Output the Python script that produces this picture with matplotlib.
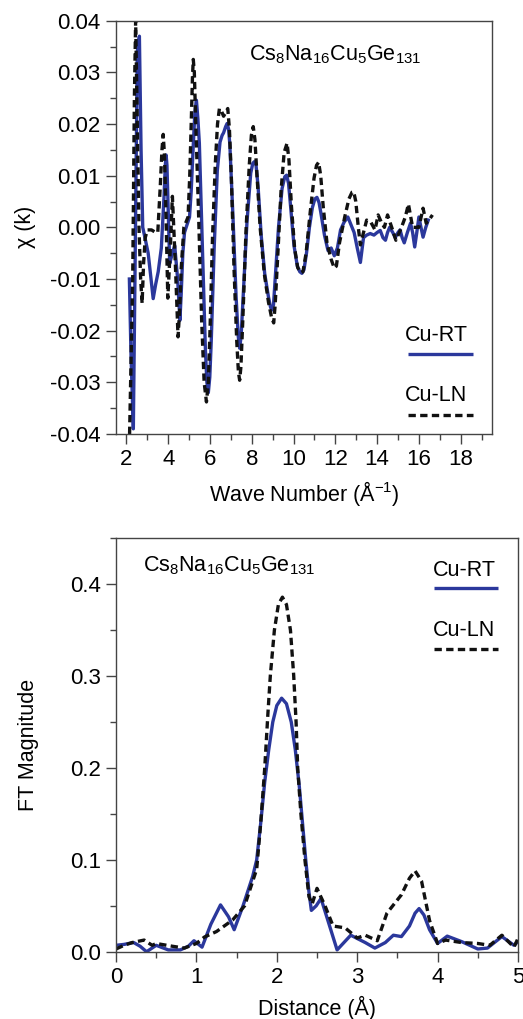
import matplotlib
matplotlib.use('Agg')
import matplotlib.pyplot as plt
from matplotlib.ticker import MultipleLocator, FormatStrFormatter

plt.rcParams['font.family'] = ['Liberation Sans', 'DejaVu Sans']
plt.rcParams['mathtext.fontset'] = 'custom'
plt.rcParams['mathtext.rm'] = 'Liberation Sans'
plt.rcParams['mathtext.it'] = 'Liberation Sans:italic'
plt.rcParams['axes.unicode_minus'] = False

'''
    chi(k) data
'''
k_rt = [2.14, 2.22, 2.33, 2.42, 2.52, 2.62, 2.70, 2.78, 2.86, 3.04, 3.15, 3.28, 3.40, 3.52,
        3.67, 3.80, 3.86, 3.90, 3.94, 3.98, 4.07, 4.20, 4.31, 4.45, 4.56, 4.62, 4.70, 4.78,
        4.90, 5.02, 5.10, 5.20, 5.28, 5.35, 5.42, 5.49, 5.635, 5.78, 5.85, 5.92, 5.99, 6.06,
        6.20, 6.35, 6.48, 6.58, 6.65, 6.75, 6.82, 6.89, 6.95, 7.10, 7.25, 7.35, 7.42, 7.49,
        7.58, 7.77, 7.95, 8.05, 8.12, 8.20, 8.30, 8.45, 8.62, 8.80, 8.90, 8.97, 9.04, 9.12,
        9.28, 9.45, 9.58, 9.67, 9.76, 9.86, 10.02, 10.18, 10.30, 10.40, 10.50, 10.62, 10.76,
        10.90, 11.02, 11.12, 11.22, 11.30, 11.48, 11.65, 11.80, 11.95, 12.10, 12.25, 12.42,
        12.60, 12.75, 12.90, 13.05, 13.20, 13.35, 13.50, 13.67, 13.85, 14.00, 14.15, 14.28,
        14.40, 14.50, 14.60, 14.75, 14.87, 15.00, 15.10, 15.20, 15.30, 15.45, 15.60, 15.70,
        15.80, 15.90, 16.00, 16.10, 16.20, 16.33, 16.45]
chi_rt = [-0.010, -0.025, -0.039, -0.005, 0.034, 0.037, 0.015, 0.000, -0.0015, -0.005, -0.009,
          -0.0138, -0.011, -0.0086, -0.004, 0.006, 0.012, 0.014, 0.012, 0.006, -0.007, -0.005,
          -0.0035, -0.010, -0.018, -0.013, -0.005, -0.001, 0.0005, 0.002, 0.007, 0.016, 0.0225,
          0.0246, 0.021, 0.0163, -0.0037, -0.0237, -0.030, -0.032, -0.029, -0.022, -0.004,
          0.011, 0.0165, 0.0178, 0.0183, 0.0195, 0.0201, 0.019, 0.016, 0.002, -0.0135, -0.021,
          -0.0234, -0.021, -0.014, 0.001, 0.0105, 0.0124, 0.0127, 0.0122, 0.008, -0.0015,
          -0.009, -0.0135, -0.0155, -0.016, -0.015, -0.010, 0.000, 0.0075, 0.0098, 0.0101,
          0.0085, 0.004, -0.0035, -0.0075, -0.0086, -0.0089, -0.0082, -0.005, 0.000, 0.0038,
          0.0055, 0.0058, 0.0048, 0.003, -0.0015, -0.0045, -0.004, -0.0055, -0.004, -0.0005,
          0.001, 0.002, 0.0005, -0.001, -0.004, -0.0068, -0.002, -0.0015, -0.0012, -0.0015,
          -0.001, -0.0006, -0.002, -0.0025, -0.001, 0.000, -0.001, -0.002, -0.001, -0.0005,
          -0.002, -0.003, -0.001, 0.0008, -0.001, -0.0038, -0.001, 0.002, 0.000, -0.0019, 0.000,
          0.0014]

k_ln = [2.15, 2.30, 2.38, 2.44, 2.52, 2.60, 2.68, 2.75, 2.82, 2.90, 3.00, 3.20, 3.40, 3.50,
        3.62, 3.70, 3.76, 3.82, 3.88, 3.98, 4.10, 4.20, 4.35, 4.47, 4.55, 4.62, 4.75, 4.95,
        5.03, 5.10, 5.16, 5.20, 5.25, 5.32, 5.45, 5.60, 5.72, 5.83, 5.92, 6.00, 6.12, 6.25,
        6.36, 6.45, 6.55, 6.65, 6.75, 6.85, 6.93, 7.02, 7.15, 7.28, 7.36, 7.42, 7.48, 7.57,
        7.72, 7.88, 7.98, 8.07, 8.15, 8.25, 8.40, 8.60, 8.80, 8.95, 9.05, 9.12, 9.25, 9.40,
        9.55, 9.69, 9.78, 9.90, 10.05, 10.20, 10.35, 10.45, 10.60, 10.80, 10.98, 11.10, 11.20,
        11.30, 11.42, 11.60, 11.80, 11.95, 12.05, 12.20, 12.45, 12.65, 12.80, 12.88, 12.98,
        13.10, 13.20, 13.35, 13.50, 13.70, 13.90, 14.05, 14.20, 14.35, 14.50, 14.70, 14.90,
        15.15, 15.35, 15.50, 15.70, 16.00, 16.20, 16.35, 16.50, 16.65]
chi_ln = [-0.040, -0.010, 0.025, 0.040, 0.020, 0.000, -0.010, -0.0147, -0.007, -0.002, -0.0005,
          -0.0005, -0.001, -0.001, 0.008, 0.015, 0.018, 0.014, 0.005, -0.0137, -0.004, 0.006,
          -0.008, -0.0212, -0.016, -0.008, 0.000, 0.002, 0.010, 0.020, 0.029, 0.0325, 0.030,
          0.020, 0.003, -0.018, -0.030, -0.0338, -0.030, -0.020, -0.002, 0.012, 0.020, 0.023,
          0.0225, 0.0215, 0.0222, 0.023, 0.019, 0.010, -0.008, -0.022, -0.028, -0.0296, -0.027,
          -0.018, -0.001, 0.012, 0.0178, 0.0195, 0.017, 0.010, 0.000, -0.009, -0.0145, -0.0175,
          -0.0185, -0.015, -0.005, 0.007, 0.0145, 0.0163, 0.013, 0.004, -0.004, -0.0078, -0.0088,
          -0.0086, -0.005, 0.003, 0.0095, 0.012, 0.0126, 0.010, 0.004, -0.003, -0.0062, -0.0079,
          -0.0075, -0.003, 0.002, 0.0055, 0.0068, 0.0069, 0.005, 0.000, -0.0034, -0.001, 0.0014,
          0.001, -0.0005, 0.0024, 0.001, 0.000, 0.0024, 0.000, -0.0025, -0.0002, 0.002, 0.0045,
          0.000, 0.000, 0.0037, 0.0008, 0.0015, 0.0024]

'''
    FT magnitude data
'''
r_rt = [0.00, 0.10, 0.22, 0.30, 0.38, 0.50, 0.65, 0.80, 0.90, 0.97, 1.07, 1.18, 1.30, 1.40,
        1.47, 1.58, 1.70, 1.75, 1.80, 1.85, 1.90, 1.95, 2.00, 2.06, 2.12, 2.18, 2.23, 2.28,
        2.32, 2.36, 2.40, 2.43, 2.49, 2.55, 2.65, 2.75, 2.92, 3.10, 3.22, 3.35, 3.45, 3.55,
        3.65, 3.72, 3.77, 3.83, 3.90, 4.00, 4.12, 4.30, 4.50, 4.62, 4.80, 4.95, 5.00]
ft_rt = [0.007, 0.008, 0.010, 0.006, 0.000, 0.007, 0.002, 0.002, 0.006, 0.012, 0.005, 0.030,
         0.051, 0.038, 0.024, 0.050, 0.082, 0.100, 0.140, 0.185, 0.220, 0.250, 0.268, 0.276,
         0.270, 0.250, 0.220, 0.180, 0.140, 0.100, 0.065, 0.045, 0.050, 0.058, 0.030, 0.002,
         0.018, 0.010, 0.004, 0.010, 0.018, 0.0165, 0.028, 0.042, 0.047, 0.040, 0.024, 0.009,
         0.017, 0.011, 0.003, 0.004, 0.0165, 0.007, 0.011]

r_ln = [0.00, 0.10, 0.20, 0.35, 0.45, 0.50, 0.70, 0.85, 1.00, 1.10, 1.25, 1.45, 1.60, 1.75,
        1.80, 1.85, 1.89, 1.92, 1.97, 2.02, 2.07, 2.12, 2.17, 2.21, 2.24, 2.26, 2.30, 2.35,
        2.40, 2.44, 2.50, 2.60, 2.70, 2.85, 3.00, 3.10, 3.25, 3.37, 3.55, 3.65, 3.72, 3.80,
        3.90, 4.00, 4.10, 4.30, 4.50, 4.65, 4.80, 4.95, 5.00]
ft_ln = [0.003, 0.007, 0.010, 0.0127, 0.007, 0.009, 0.006, 0.004, 0.009, 0.016, 0.022, 0.0345,
         0.050, 0.090, 0.140, 0.200, 0.260, 0.301, 0.350, 0.378, 0.386, 0.378, 0.350, 0.301,
         0.250, 0.200, 0.150, 0.100, 0.060, 0.052, 0.069, 0.050, 0.028, 0.026, 0.015, 0.018,
         0.012, 0.042, 0.062, 0.080, 0.088, 0.077, 0.034, 0.009, 0.0127, 0.010, 0.009, 0.007,
         0.018, 0.005, 0.0145]

blue = '#2b389c'
spine_c = '#444444'
dash = (0, (2.2, 1.3))
fs_tick = 16
fs_text = 15.5

fig = plt.figure(figsize=(5.23, 10.19), dpi=100)
ax1 = fig.add_axes([0.2218, 0.5741, 0.7189, 0.4056])
ax2 = fig.add_axes([0.2218, 0.0660, 0.7686, 0.4057])


def style_axes(ax):
    for s in ax.spines.values():
        s.set_color(spine_c)
        s.set_linewidth(1.0)
    ax.tick_params(which='both', direction='out', color=spine_c, width=1.0,
                   top=False, right=False, labelsize=fs_tick, pad=4)
    ax.tick_params(which='major', length=7)
    ax.tick_params(which='minor', length=4.5)


def legend_block(ax, tx, x0, x1, y_rt, y_ln, dy):
    # label text sits above its sample line
    ax.text(tx, y_rt, 'Cu-RT', transform=ax.transAxes, fontsize=fs_text, ha='left', va='center')
    ax.plot([x0, x1], [y_rt - dy, y_rt - dy], transform=ax.transAxes, color=blue, lw=2.4,
            solid_capstyle='butt', clip_on=False)
    ax.text(tx, y_ln, 'Cu-LN', transform=ax.transAxes, fontsize=fs_text, ha='left', va='center')
    ax.plot([x0, x1], [y_ln - dy, y_ln - dy], transform=ax.transAxes, color='#111111', lw=2.4,
            linestyle=dash, clip_on=False)


# --- chi(k)
ax1.plot(k_rt, chi_rt, color=blue, lw=2.4)
ax1.plot(k_ln, chi_ln, color='#111111', lw=2.4, linestyle=dash)
ax1.set_xlim(1.5, 19.5)
ax1.set_ylim(-0.04, 0.04)
ax1.xaxis.set_major_locator(MultipleLocator(2))
ax1.xaxis.set_minor_locator(MultipleLocator(1))
ax1.yaxis.set_major_locator(MultipleLocator(0.01))
ax1.yaxis.set_minor_locator(MultipleLocator(0.005))
ax1.yaxis.set_major_formatter(FormatStrFormatter('%.2f'))
style_axes(ax1)
ax1.set_xlabel('Wave Number (Å$^{-1}$)', fontsize=fs_text, labelpad=6)
ax1.set_ylabel('χ (k)', fontsize=fs_text, labelpad=10)
ax1.text(12.0, 0.0335, 'Cs$_8$Na$_{16}$Cu$_5$Ge$_{131}$', fontsize=fs_text, ha='center', va='center')
legend_block(ax1, 0.769, 0.777, 0.949, 0.2395, 0.092, 0.046)

# --- FT magnitude
ax2.plot(r_rt, ft_rt, color=blue, lw=2.4)
ax2.plot(r_ln, ft_ln, color='#111111', lw=2.4, linestyle=dash)
ax2.set_xlim(0, 5)
ax2.set_ylim(0, 0.45)
ax2.xaxis.set_major_locator(MultipleLocator(1))
ax2.xaxis.set_minor_locator(MultipleLocator(0.5))
ax2.yaxis.set_major_locator(MultipleLocator(0.1))
ax2.yaxis.set_minor_locator(MultipleLocator(0.05))
ax2.yaxis.set_major_formatter(FormatStrFormatter('%.1f'))
style_axes(ax2)
ax2.set_xlabel('Distance (Å)', fontsize=fs_text, labelpad=6)
ax2.set_ylabel('FT Magnitude', fontsize=fs_text, labelpad=22)
ax2.text(0.33, 0.42, 'Cs$_8$Na$_{16}$Cu$_5$Ge$_{131}$', fontsize=fs_text, ha='left', va='center')
legend_block(ax2, 0.789, 0.791, 0.950, 0.923, 0.776, 0.043)

fig.savefig('out.png', dpi=100)
